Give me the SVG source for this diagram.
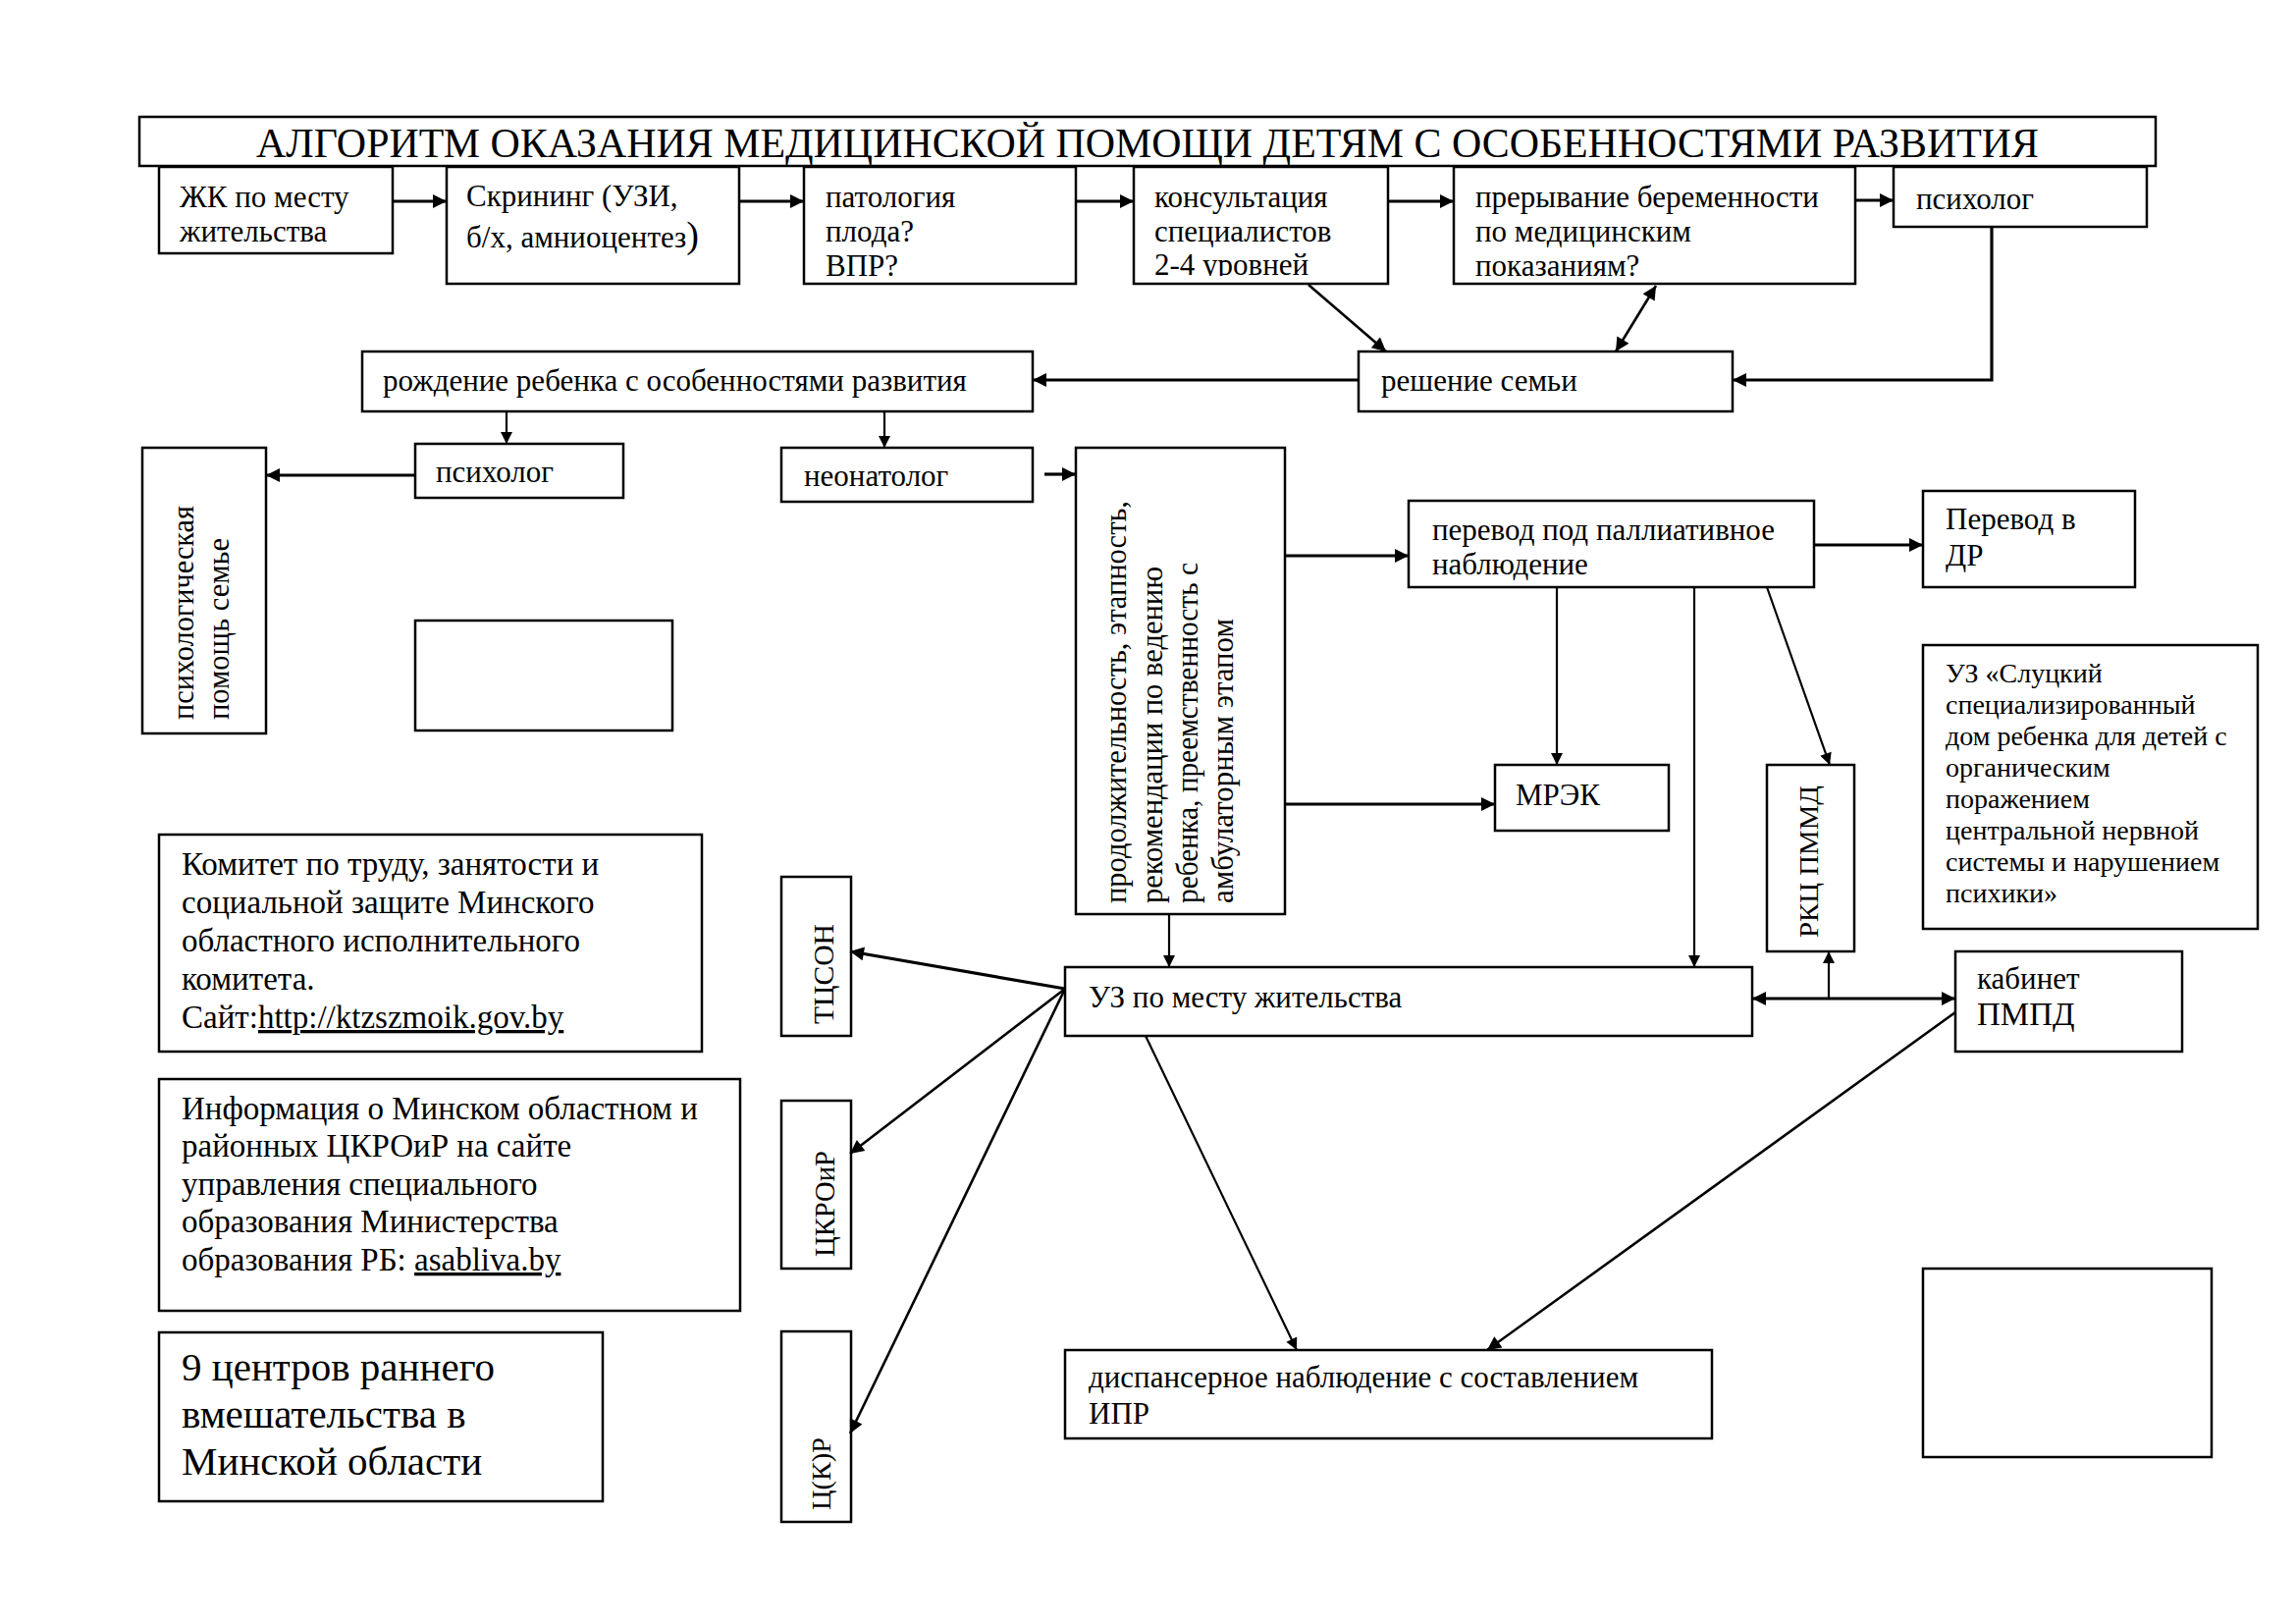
<svg xmlns="http://www.w3.org/2000/svg" width="2339" height="1654" viewBox="0 0 2339 1654">
<style>
.b{fill:#fff;stroke:#000;stroke-width:2.5}
.t{font-family:"Liberation Serif","Times New Roman",serif;font-size:31px;fill:#000}
.s28{font-size:28px}
.s33{font-size:33px}
.s41{font-size:41px}
.c{fill:none;stroke:#000}
.w3{stroke-width:3.2}
.w2{stroke-width:2.2}
</style>
<defs>
<marker id="ah" viewBox="0 0 10 10" refX="10" refY="5" markerUnits="userSpaceOnUse" markerWidth="16" markerHeight="14" orient="auto-start-reverse"><path d="M0,0 L10,5 L0,10 z" fill="#000"/></marker>
<marker id="as" viewBox="0 0 10 10" refX="10" refY="5" markerUnits="userSpaceOnUse" markerWidth="15" markerHeight="12" orient="auto-start-reverse"><path d="M0,0 L10,5 L0,10 z" fill="#000"/></marker>
<clipPath id="ck"><rect x="1155" y="170" width="259" height="111"/></clipPath>
</defs>
<rect width="2339" height="1654" fill="#fff"/>

<g id="title"><rect class="b" x="142" y="119" width="2054" height="50"/>
<text class="t" x="261" y="160" style="font-size:43px" textLength="1816" lengthAdjust="spacingAndGlyphs">АЛГОРИТМ ОКАЗАНИЯ МЕДИЦИНСКОЙ ПОМОЩИ ДЕТЯМ С ОСОБЕННОСТЯМИ РАЗВИТИЯ</text></g>

<g id="zk"><rect class="b" x="162" y="170" width="238" height="88"/>
<text class="t"><tspan x="183" y="211">ЖК по месту</tspan><tspan x="183" y="246">жительства</tspan></text></g>

<g id="screening"><rect class="b" x="455" y="170" width="298" height="119"/>
<text class="t"><tspan x="475" y="210">Скрининг (УЗИ,</tspan><tspan x="475" y="252">б/х, амниоцентез<tspan style="font-size:38px">)</tspan></tspan></text></g>

<g id="patology"><rect class="b" x="819" y="170" width="277" height="119"/>
<text class="t"><tspan x="841" y="211">патология</tspan><tspan x="841" y="246">плода?</tspan><tspan x="841" y="281">ВПР?</tspan></text></g>

<g id="konsult"><rect class="b" x="1155" y="170" width="259" height="119"/>
<text class="t" clip-path="url(#ck)"><tspan x="1176" y="211">консультация</tspan><tspan x="1176" y="246">специалистов</tspan><tspan x="1176" y="280">2-4 уровней</tspan></text></g>

<g id="prer"><rect class="b" x="1481" y="170" width="409" height="119"/>
<text class="t"><tspan x="1503" y="211">прерывание беременности</tspan><tspan x="1503" y="246">по медицинским</tspan><tspan x="1503" y="281">показаниям?</tspan></text></g>

<g id="psy1"><rect class="b" x="1929" y="170" width="258" height="61"/>
<text class="t" x="1952" y="213">психолог</text></g>

<g id="reshenie"><rect class="b" x="1384" y="358" width="381" height="61"/>
<text class="t" x="1407" y="398">решение семьи</text></g>

<g id="rozhdenie"><rect class="b" x="369" y="358" width="683" height="61"/>
<text class="t" x="390" y="398">рождение ребенка с особенностями развития</text></g>

<g id="psy2"><rect class="b" x="423" y="452" width="212" height="55"/>
<text class="t" x="444" y="491">психолог</text></g>

<g id="neonatolog"><rect class="b" x="796" y="456" width="256" height="55"/>
<text class="t" x="819" y="495">неонатолог</text></g>

<g id="psyhelp"><rect class="b" x="145" y="456" width="126" height="291"/>
<text class="t" x="197" y="733" transform="rotate(-90 197 733)" textLength="218" lengthAdjust="spacingAndGlyphs">психологическая</text>
<text class="t" x="233" y="733" transform="rotate(-90 233 733)" textLength="185" lengthAdjust="spacingAndGlyphs">помощь семье</text></g>

<g id="empty1"><rect class="b" x="423" y="632" width="262" height="112"/></g>

<g id="bigbox"><rect class="b" x="1096" y="456" width="213" height="475"/>
<text class="t" x="1147" y="920" transform="rotate(-90 1147 920)" textLength="410" lengthAdjust="spacingAndGlyphs">продолжительность, этапность,</text>
<text class="t" x="1184" y="920" transform="rotate(-90 1184 920)" textLength="343" lengthAdjust="spacingAndGlyphs">рекомендации по ведению</text>
<text class="t" x="1220" y="920" transform="rotate(-90 1220 920)" textLength="347" lengthAdjust="spacingAndGlyphs">ребенка, преемственность с</text>
<text class="t" x="1256" y="920" transform="rotate(-90 1256 920)" textLength="290" lengthAdjust="spacingAndGlyphs">амбулаторным этапом</text></g>

<g id="perevod"><rect class="b" x="1435" y="510" width="413" height="88"/>
<text class="t"><tspan x="1459" y="550">перевод под паллиативное</tspan><tspan x="1459" y="585">наблюдение</tspan></text></g>

<g id="dr"><rect class="b" x="1959" y="500" width="216" height="98"/>
<text class="t"><tspan x="1982" y="539">Перевод в</tspan><tspan x="1982" y="576">ДР</tspan></text></g>

<g id="mrek"><rect class="b" x="1523" y="779" width="177" height="67"/>
<text class="t" x="1544" y="820">МРЭК</text></g>

<g id="rkc"><rect class="b" x="1800" y="779" width="89" height="190"/>
<text class="t s28" x="1852" y="955" transform="rotate(-90 1852 955)" textLength="155" lengthAdjust="spacingAndGlyphs">РКЦ ПММД</text></g>

<g id="sluck"><rect class="b" x="1959" y="657" width="341" height="289"/>
<text class="t s28"><tspan x="1982" y="695">УЗ «Слуцкий</tspan><tspan x="1982" y="727">специализированный</tspan><tspan x="1982" y="759">дом ребенка для детей с</tspan><tspan x="1982" y="791">органическим</tspan><tspan x="1982" y="823">поражением</tspan><tspan x="1982" y="855">центральной нервной</tspan><tspan x="1982" y="887">системы и нарушением</tspan><tspan x="1982" y="919">психики»</tspan></text></g>

<g id="uz"><rect class="b" x="1085" y="985" width="700" height="70"/>
<text class="t" x="1109" y="1026">УЗ по месту жительства</text></g>

<g id="kabinet"><rect class="b" x="1992" y="969" width="231" height="102"/>
<text class="t"><tspan x="2014" y="1007">кабинет</tspan><tspan x="2014" y="1044" style="font-size:33px">ПМПД</tspan></text></g>

<g id="disp"><rect class="b" x="1085" y="1375" width="659" height="90"/>
<text class="t"><tspan x="1109" y="1413">диспансерное наблюдение с составлением</tspan><tspan x="1109" y="1450">ИПР</tspan></text></g>

<g id="empty2"><rect class="b" x="1959" y="1292" width="294" height="192"/></g>

<g id="komitet"><rect class="b" x="162" y="850" width="553" height="221"/>
<text class="t s33"><tspan x="185" y="891">Комитет по труду, занятости и</tspan><tspan x="185" y="930">социальной защите Минского</tspan><tspan x="185" y="969">областного исполнительного</tspan><tspan x="185" y="1008">комитета.</tspan><tspan x="185" y="1047">Сайт:<tspan text-decoration="underline">http://ktzszmoik.gov.by</tspan></tspan></text></g>

<g id="info"><rect class="b" x="162" y="1099" width="592" height="236"/>
<text class="t s33"><tspan x="185" y="1140">Информация о Минском областном и</tspan><tspan x="185" y="1178">районных ЦКРОиР на сайте</tspan><tspan x="185" y="1217">управления специального</tspan><tspan x="185" y="1255">образования Министерства</tspan><tspan x="185" y="1294">образования РБ: <tspan text-decoration="underline">asabliva.by</tspan></tspan></text></g>

<g id="nine"><rect class="b" x="162" y="1357" width="452" height="172"/>
<text class="t s41"><tspan x="185" y="1406">9 центров раннего</tspan><tspan x="185" y="1454">вмешательства в</tspan><tspan x="185" y="1502">Минской области</tspan></text></g>

<g id="tcson"><rect class="b" x="796" y="893" width="71" height="162"/>
<text class="t" style="font-size:30px" x="849" y="1043" transform="rotate(-90 849 1043)" textLength="102" lengthAdjust="spacingAndGlyphs">ТЦСОН</text></g>

<g id="ckroir"><rect class="b" x="796" y="1121" width="71" height="171"/>
<text class="t" style="font-size:30px" x="850" y="1280" transform="rotate(-90 850 1280)" textLength="108" lengthAdjust="spacingAndGlyphs">ЦКРОиР</text></g>

<g id="ckr"><rect class="b" x="796" y="1356" width="71" height="194"/>
<text class="t" style="font-size:28px" x="846" y="1538" transform="rotate(-90 846 1538)" textLength="74" lengthAdjust="spacingAndGlyphs">Ц(К)Р</text></g>

<g id="connectors">
<path class="c w3" d="M400,205 H455" marker-end="url(#ah)"/>
<path class="c w3" d="M753,205 H819" marker-end="url(#ah)"/>
<path class="c w3" d="M1096,205 H1155" marker-end="url(#ah)"/>
<path class="c w3" d="M1414,205 H1481" marker-end="url(#ah)"/>
<path class="c w3" d="M1890,204 H1929" marker-end="url(#ah)"/>
<path class="c" style="stroke-width:2.6" d="M1333,290 L1412,358" marker-end="url(#ah)"/>
<path class="c" style="stroke-width:2.6" d="M1687,291 L1646,358" marker-start="url(#ah)" marker-end="url(#ah)"/>
<path class="c w3" d="M2029,231 V387 H1765" marker-end="url(#ah)"/>
<path class="c w3" d="M1384,387 H1052" marker-end="url(#ah)"/>
<path class="c w2" d="M516,419 V452" marker-end="url(#as)"/>
<path class="c w2" d="M901,419 V456" marker-end="url(#as)"/>
<path class="c w3" d="M423,484 H271" marker-end="url(#ah)"/>
<path class="c w3" d="M1064,483 H1096" marker-end="url(#ah)"/>
<path class="c w3" d="M1309,566 H1435" marker-end="url(#ah)"/>
<path class="c w3" d="M1309,819 H1523" marker-end="url(#ah)"/>
<path class="c w2" d="M1191,931 V985" marker-end="url(#as)"/>
<path class="c w3" d="M1848,555 H1959" marker-end="url(#ah)"/>
<path class="c w2" d="M1586,598 V779" marker-end="url(#as)"/>
<path class="c w2" d="M1726,598 V985" marker-end="url(#as)"/>
<path class="c w2" d="M1800,598 L1864,779" marker-end="url(#as)"/>
<path class="c w3" d="M1785,1017 H1992" marker-start="url(#ah)" marker-end="url(#ah)"/>
<path class="c w2" d="M1863,1017 V969" marker-end="url(#as)"/>
<path class="c" style="stroke-width:2.6" d="M1992,1031 L1515,1375" marker-end="url(#ah)"/>
<path class="c w2" d="M1167,1055 L1321,1375" marker-end="url(#as)"/>
<path class="c w3" d="M1085,1007 L866,969" marker-end="url(#ah)"/>
<path class="c" style="stroke-width:2.6" d="M1085,1007 L866,1175" marker-end="url(#ah)"/>
<path class="c" style="stroke-width:2.6" d="M1085,1007 L866,1460" marker-end="url(#ah)"/>
</g>
</svg>
